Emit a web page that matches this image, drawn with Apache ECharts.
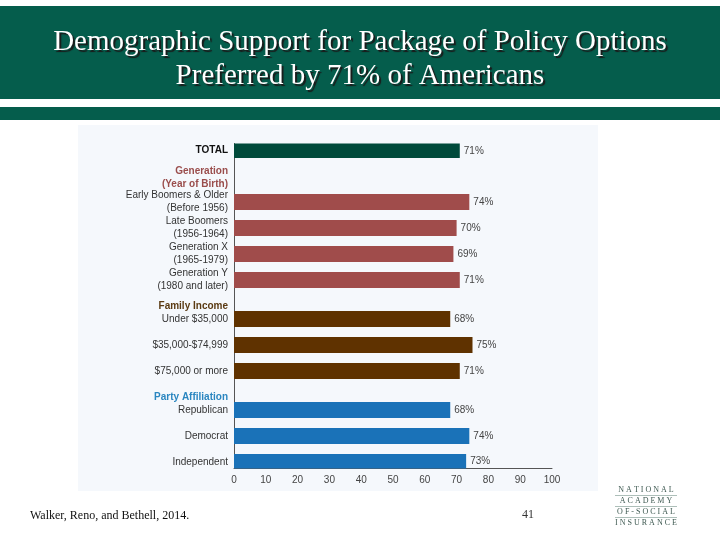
<!DOCTYPE html>
<html>
<head>
<meta charset="utf-8">
<script src="https://cdn.jsdelivr.net/npm/echarts@6/dist/echarts.min.js"></script>
<style>
  html, body { margin: 0; padding: 0; background: #ffffff; }
  #main { width: 720px; height: 540px; }
</style>
</head>
<body>
<div id="main"></div>
<script>
// chart data
var categories = [
    'TOTAL',
    'Early Boomers & Older\n(Before 1956)',
    'Late Boomers\n(1956-1964)',
    'Generation X\n(1965-1979)',
    'Generation Y\n(1980 and later)',
    'Under $35,000',
    '$35,000-$74,999',
    '$75,000 or more',
    'Republican',
    'Democrat',
    'Independent'
];
var values = [71, 74, 70, 69, 71, 68, 75, 71, 68, 74, 73];
var groups = ['total', 'gen', 'gen', 'gen', 'gen', 'inc', 'inc', 'inc', 'par', 'par', 'par'];
var groupTitles = ['Generation\n(Year of Birth)', 'Family Income', 'Party Affiliation'];
var groupKeys = ['gen', 'inc', 'par'];

// layout: rows are placed on half-row slots
var slotCount = 25;
var rowSlots = [0, 4, 6, 8, 10, 13, 15, 17, 20, 22, 24];
var headerSlots = [2, 12, 19];

var colors = {
    total: '#004a3b',
    gen: '#a04c4b',
    inc: '#5f3200',
    par: '#1a72b8'
};

var slotIds = [];
var slotText = {};
var barData = [];
for (var i = 0; i < slotCount; i++) {
    slotIds.push('s' + i);
    barData.push('-');
}
rowSlots.forEach(function (s, i) {
    slotText['s' + s] = i === 0 ? '{tot|' + categories[i] + '}' : categories[i];
    barData[s] = {
        value: values[i],
        itemStyle: { color: colors[groups[i]] }
    };
});
headerSlots.forEach(function (s, i) {
    slotText['s' + s] = '{' + groupKeys[i] + '|' + groupTitles[i] + '}';
});

var myChart = echarts.init(document.getElementById('main'));

var titleFont = '29px "Liberation Serif", "Times New Roman", serif';
var logoFont = '8px "Liberation Serif", serif';

var option = {
    animation: false,
    backgroundColor: '#ffffff',
    graphic: [
        // title bands
        { type: 'rect', shape: { x: 0, y: 6, width: 720, height: 93 }, style: { fill: '#055d4c' }, z: 0 },
        { type: 'rect', shape: { x: 0, y: 107, width: 720, height: 13 }, style: { fill: '#055d4c' }, z: 0 },
        // chart panel
        { type: 'rect', shape: { x: 78, y: 125, width: 520, height: 366 }, style: { fill: '#f5f8fc' }, z: -1 },
        {
            type: 'text', x: 360, y: 42, z: 5,
            style: {
                text: 'Demographic Support for Package of Policy Options',
                fill: '#ffffff', font: titleFont,
                align: 'center', verticalAlign: 'middle',
                textShadowColor: '#1a1a1a', textShadowOffsetX: 2, textShadowOffsetY: 2, textShadowBlur: 1
            }
        },
        {
            type: 'text', x: 360, y: 76, z: 5,
            style: {
                text: 'Preferred by 71% of Americans',
                fill: '#ffffff', font: titleFont,
                align: 'center', verticalAlign: 'middle',
                textShadowColor: '#1a1a1a', textShadowOffsetX: 2, textShadowOffsetY: 2, textShadowBlur: 1
            }
        },
        // footer
        {
            type: 'text', x: 30, y: 516,
            style: {
                text: 'Walker, Reno, and Bethell, 2014.',
                fill: '#111111', font: '12px "Liberation Serif", serif',
                verticalAlign: 'middle'
            }
        },
        {
            type: 'text', x: 528, y: 515,
            style: {
                text: '41', fill: '#333333', font: '12px "Liberation Serif", serif',
                align: 'center', verticalAlign: 'middle'
            }
        },
        // logo
        { type: 'text', x: 646, y: 490, style: { text: 'N A T I O N A L', fill: '#3f5a52', font: logoFont, align: 'center', verticalAlign: 'middle' } },
        { type: 'line', shape: { x1: 615, y1: 495.5, x2: 677, y2: 495.5 }, style: { stroke: '#8aa39b', lineWidth: 0.7 } },
        { type: 'text', x: 646, y: 501, style: { text: 'A C A D E M Y', fill: '#3f5a52', font: logoFont, align: 'center', verticalAlign: 'middle' } },
        { type: 'line', shape: { x1: 615, y1: 506.5, x2: 677, y2: 506.5 }, style: { stroke: '#8aa39b', lineWidth: 0.7 } },
        { type: 'text', x: 646, y: 512, style: { text: 'O F - S O C I A L', fill: '#3f5a52', font: logoFont, align: 'center', verticalAlign: 'middle' } },
        { type: 'line', shape: { x1: 615, y1: 517.5, x2: 677, y2: 517.5 }, style: { stroke: '#8aa39b', lineWidth: 0.7 } },
        { type: 'text', x: 646, y: 523, style: { text: 'I N S U R A N C E', fill: '#3f5a52', font: logoFont, align: 'center', verticalAlign: 'middle' } }
    ],
    grid: {
        left: 234,
        right: 168,
        top: 143.5,
        bottom: 71.5,
        containLabel: false
    },
    xAxis: {
        type: 'value',
        min: 0,
        max: 100,
        interval: 10,
        splitLine: { show: false },
        axisTick: { show: false },
        axisLine: { show: true, lineStyle: { color: '#555555', width: 1 } },
        axisLabel: {
            margin: 7,
            color: '#444444',
            fontSize: 10,
            fontFamily: '"Liberation Sans", Arial, sans-serif'
        }
    },
    yAxis: {
        type: 'category',
        inverse: true,
        data: slotIds,
        axisTick: { show: false },
        axisLine: { show: true, lineStyle: { color: '#555555', width: 1 } },
        axisLabel: {
            interval: 0,
            margin: 6,
            color: '#333333',
            fontSize: 10,
            lineHeight: 13,
            align: 'right',
            fontFamily: '"Liberation Sans", Arial, sans-serif',
            formatter: function (v) {
                return slotText[v] || '';
            },
            rich: {
                tot: { fontWeight: 'bold', color: '#111111', fontSize: 10 },
                gen: { fontWeight: 'bold', color: '#9a4d4c', fontSize: 10, lineHeight: 13, padding: [4, 0, 0, 0] },
                inc: { fontWeight: 'bold', color: '#5a3a12', fontSize: 10 },
                par: { fontWeight: 'bold', color: '#2a86c0', fontSize: 10 }
            }
        }
    },
    series: [{
        type: 'bar',
        data: barData,
        barWidth: 16,
        label: {
            show: true,
            position: 'right',
            distance: 4,
            formatter: '{c}%',
            color: '#444444',
            fontSize: 10,
            fontFamily: '"Liberation Sans", Arial, sans-serif'
        }
    }]
};

myChart.setOption(option);
</script>
</body>
</html>
